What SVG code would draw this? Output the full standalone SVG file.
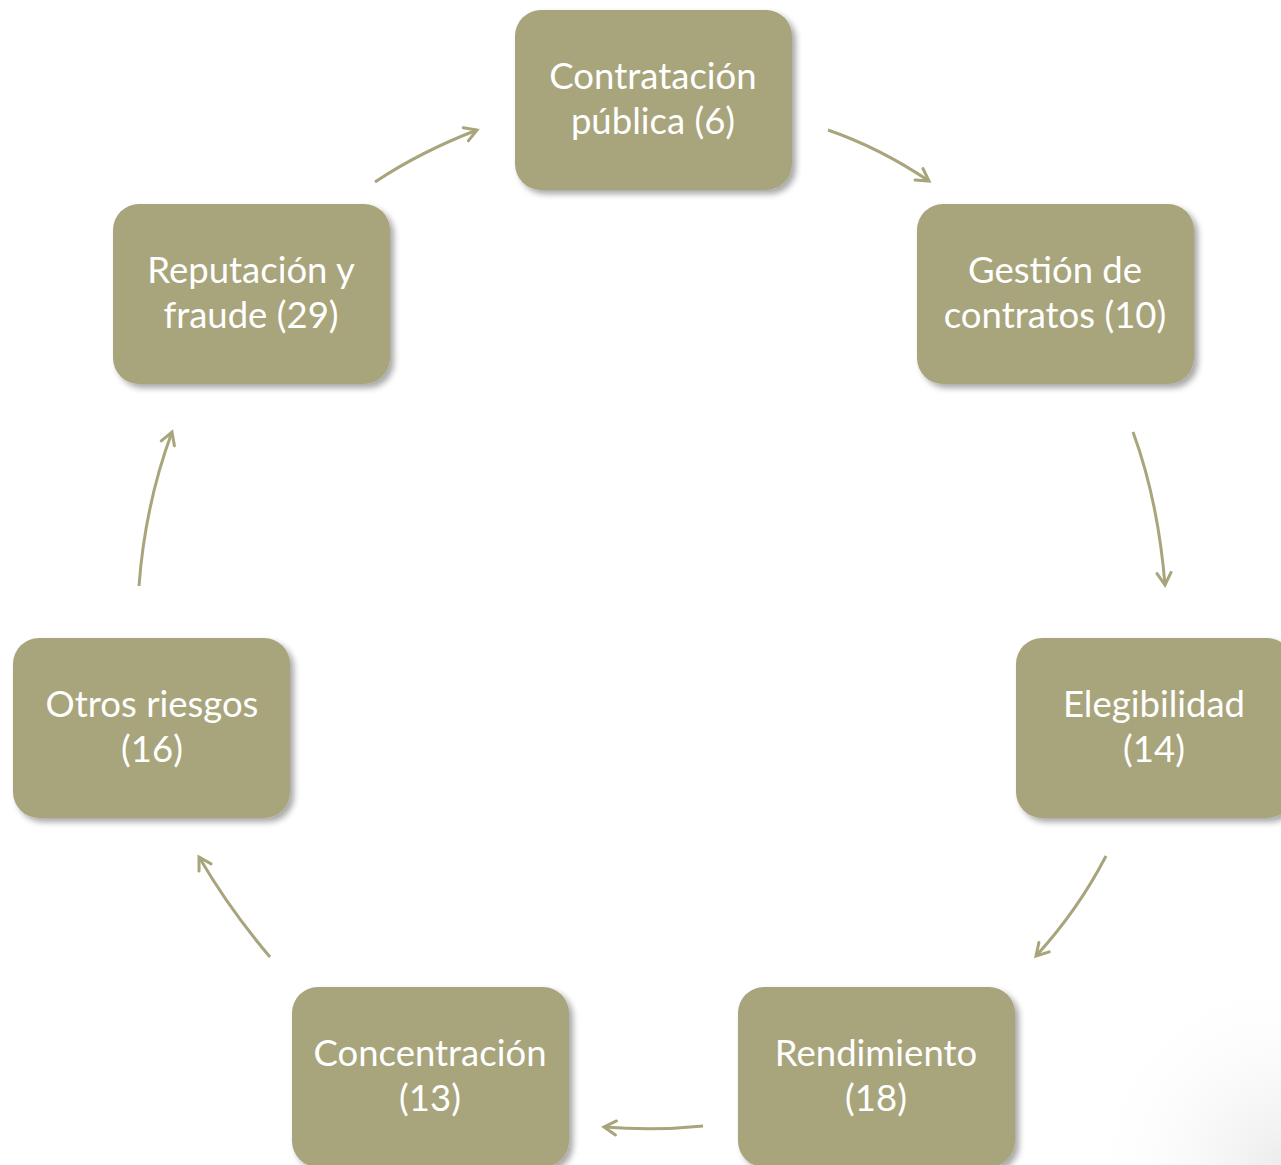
<svg xmlns="http://www.w3.org/2000/svg" width="1281" height="1165" viewBox="0 0 1281 1165">
<defs>
<style>
.box{fill:#A8A57C;filter:url(#sh)}
.t{fill:#fff;font-family:Lato,"Open Sans","Noto Sans",sans-serif;font-size:36.5px;text-anchor:middle}
.c{fill:none;stroke:#A8A57C;stroke-width:3;marker-end:url(#ah)}
</style>
<filter id="sh" x="-10%" y="-10%" width="130%" height="130%">
<feGaussianBlur in="SourceAlpha" stdDeviation="3"/>
<feOffset dx="4" dy="4" result="b"/>
<feComponentTransfer><feFuncA type="linear" slope="0.35"/></feComponentTransfer>
<feMerge><feMergeNode/><feMergeNode in="SourceGraphic"/></feMerge>
</filter>
<marker id="ah" markerWidth="18" markerHeight="18" refX="14" refY="9" orient="auto" markerUnits="userSpaceOnUse">
<path d="M2,2 L14,9 L2,16" fill="none" stroke="#A8A57C" stroke-width="3" stroke-linecap="round"/>
</marker>
<radialGradient id="corner" cx="1281" cy="1165" r="200" gradientUnits="userSpaceOnUse">
<stop offset="0" stop-color="#ececec"/>
<stop offset="1" stop-color="#ffffff" stop-opacity="0"/>
</radialGradient>
</defs>
<rect width="1281" height="1165" fill="#fff"/>
<rect x="1081" y="965" width="200" height="200" fill="url(#corner)"/>
<g id="connectors">
<path class="c" d="M375,182 Q420,152 477,130"/>
<path class="c" d="M828,130 Q880,148 929,181"/>
<path class="c" d="M1133,432 Q1158,500 1165,585"/>
<path class="c" d="M1106,856 Q1078,910 1036,956"/>
<path class="c" d="M703,1126 Q655,1131 604,1127"/>
<path class="c" d="M270,957 Q230,910 199,857"/>
<path class="c" d="M139,586 Q145,505 172,432"/>
</g>
<g id="n1"><rect class="box" x="515" y="10" width="277" height="180" rx="26"/><text class="t" x="653" y="89">Contratación</text><text class="t" x="653" y="134">pública (6)</text></g>
<g id="n2"><rect class="box" x="917" y="204" width="277" height="180" rx="26"/><text class="t" x="1055" y="283">Gestión de</text><text class="t" x="1055" y="328">contratos (10)</text></g>
<g id="n3"><rect class="box" x="1016" y="638" width="277" height="180" rx="26"/><text class="t" x="1154" y="717">Elegibilidad</text><text class="t" x="1154" y="762">(14)</text></g>
<g id="n4"><rect class="box" x="738" y="987" width="277" height="180" rx="26"/><text class="t" x="876" y="1066">Rendimiento</text><text class="t" x="876" y="1111">(18)</text></g>
<g id="n5"><rect class="box" x="292" y="987" width="277" height="180" rx="26"/><text class="t" x="430" y="1066">Concentración</text><text class="t" x="430" y="1111">(13)</text></g>
<g id="n6"><rect class="box" x="13" y="638" width="277" height="180" rx="26"/><text class="t" x="152" y="717">Otros riesgos</text><text class="t" x="152" y="762">(16)</text></g>
<g id="n7"><rect class="box" x="113" y="204" width="277" height="180" rx="26"/><text class="t" x="251" y="283">Reputación y</text><text class="t" x="251" y="328">fraude (29)</text></g>
</svg>
